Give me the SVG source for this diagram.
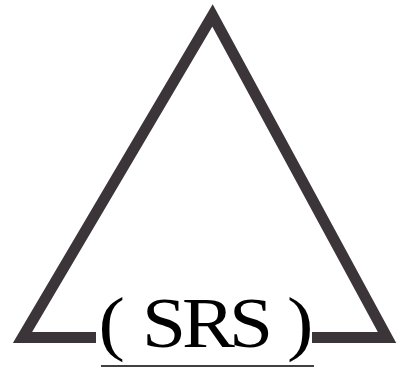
<svg xmlns="http://www.w3.org/2000/svg" width="399" height="368" viewBox="0 0 399 368">
<style>
.edge{fill:none;stroke:#3b3539;stroke-width:11;stroke-linejoin:miter;stroke-miterlimit:10;stroke-linecap:butt}
.lbl{font-family:"Liberation Serif","Times New Roman",Times,serif;font-size:72px;fill:#000}
</style>
<rect width="399" height="368" fill="#fff"/>
<g id="triangle">
<path class="edge" d="M96,337.5 L22.5,337.5 L212.5,15.5 L387,337.5 L312,337.5"/>
</g>
<g id="label">
<text class="lbl" transform="scale(1.1,1)" x="89.5 105 129.1 165.5 208.2 240 261" y="347">( SRS )</text>
<line x1="101" y1="366" x2="314" y2="366" stroke="#000" stroke-width="1.5"/>
</g>
</svg>
